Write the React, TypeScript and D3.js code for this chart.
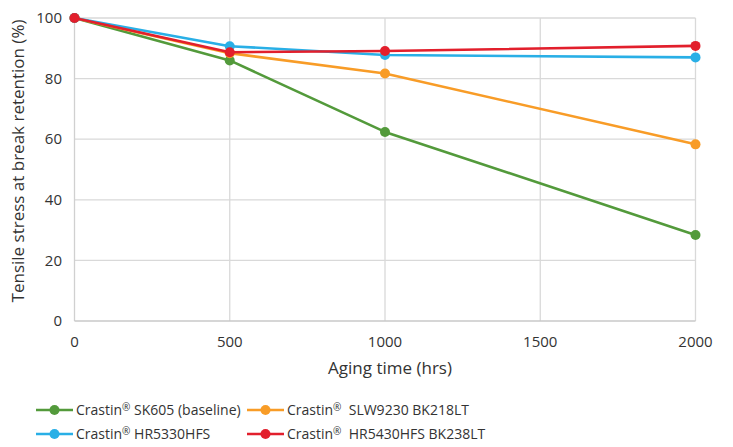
import React from "react";
import * as d3 from "d3";

const hours = [0, 500, 1000, 2000];
const seriesBrand = ["Crastin", "Crastin", "Crastin", "Crastin"];
const seriesGrades = [
  " SK605 (baseline)",
  "  SLW9230 BK218LT",
  " HR5330HFS",
  "  HR5430HFS BK238LT",
];
const sk605 = [100, 86, 62.4, 28.4];
const slw9230 = [100, 88.4, 81.7, 58.3];
const hr5330 = [100, 90.7, 87.8, 87.0];
const hr5430 = [100, 88.7, 89.1, 90.8];
const colors = ["#539a3b", "#f89c27", "#29afe6", "#e21f2c"];
const xTicks = [0, 500, 1000, 1500, 2000];
const yTicks = [0, 20, 40, 60, 80, 100];

const W = 733;
const H = 447;
const FONT = "'Open Sans', 'Noto Sans', sans-serif";

export default function App() {
  const x = d3.scaleLinear().domain([0, 2000]).range([74.5, 695.5]);
  const y = d3.scaleLinear().domain([0, 100]).range([321, 18]);
  const data = [sk605, slw9230, hr5330, hr5430];
  const line = d3
    .line<number>()
    .x((_, i) => x(hours[i]))
    .y((d) => y(d));
  const order = [0, 1, 2, 3];
  const legendPos = [
    { lx: 36, ly: 410 },
    { lx: 247, ly: 410 },
    { lx: 36, ly: 434 },
    { lx: 247, ly: 434 },
  ];
  return (
    <div style={{ margin: -8 }}>
      <svg width={W} height={H} style={{ display: "block", background: "#fff" }} fontFamily={FONT}>
        {yTicks.filter((t) => t > 0).map((t) => (
          <line key={"gy" + t} x1={x(0)} x2={x(2000)} y1={y(t)} y2={y(t)} stroke="#d9d9d9" strokeWidth={1.3} />
        ))}
        {xTicks.filter((t) => t > 0).map((t) => (
          <line key={"gx" + t} x1={x(t)} x2={x(t)} y1={y(0)} y2={y(100)} stroke="#d9d9d9" strokeWidth={1.3} />
        ))}
        <line x1={x(0)} x2={x(0)} y1={y(0)} y2={y(100)} stroke="#d0d0d0" strokeWidth={1.3} />
        <line x1={x(0)} x2={x(2000)} y1={y(0)} y2={y(0)} stroke="#c8c8c8" strokeWidth={1.3} />
        {yTicks.map((t) => (
          <text key={"yt" + t} x={62} y={y(t)} dy="0.35em" textAnchor="end" fontSize={15} fill="#333">
            {t}
          </text>
        ))}
        {xTicks.map((t) => (
          <text key={"xt" + t} x={x(t)} y={347} textAnchor="middle" fontSize={15} fill="#333">
            {t}
          </text>
        ))}
        <text x={390} y={374} textAnchor="middle" fontSize={17} fill="#333">
          Aging time (hrs)
        </text>
        <text
          transform={`translate(24,161) rotate(-90)`}
          textAnchor="middle"
          fontSize={17}
          fill="#333"
        >
          Tensile stress at break retention (%)
        </text>
        {order.map((k) => (
          <g key={"s" + k}>
            <path d={line(data[k]) || ""} fill="none" stroke={colors[k]} strokeWidth={2.6} strokeLinejoin="round" />
            {data[k].map((v, i) => (
              <circle key={i} cx={x(hours[i])} cy={y(v)} r={5} fill={colors[k]} />
            ))}
          </g>
        ))}
        {seriesGrades.map((grade, k) => {
          const { lx, ly } = legendPos[k];
          return (
            <g key={"lg" + k}>
              <line x1={lx} x2={lx + 37} y1={ly} y2={ly} stroke={colors[k]} strokeWidth={2.6} />
              <circle cx={lx + 18.5} cy={ly} r={5} fill={colors[k]} />
              <text x={lx + 40} y={ly + 5} fontSize={14} fill="#333" style={{ whiteSpace: "pre" }}>
                {seriesBrand[k]}
                <tspan fontSize={10} dy={-4}>®</tspan>
                <tspan dy={4}>{grade}</tspan>
              </text>
            </g>
          );
        })}
      </svg>
    </div>
  );
}
